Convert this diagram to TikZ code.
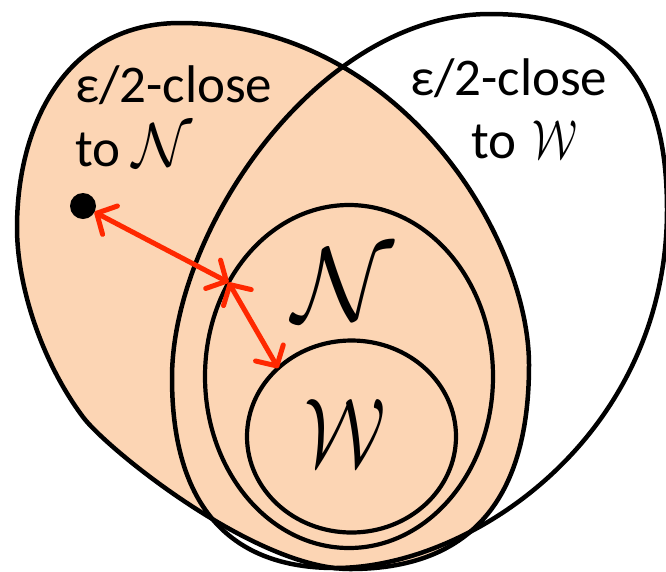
\documentclass[tikz,border=0pt]{standalone}
\usepackage{fontspec}
\setmainfont{Carlito}
\usepackage{graphicx}
\usetikzlibrary{shapes.geometric,arrows.meta}
\definecolor{peach}{RGB}{252,213,180}
\definecolor{arrred}{RGB}{255,40,0}
\newcommand{\calNsmall}{\scalebox{6.2}{\normalsize$\mathcal{N}$}}
\newcommand{\calWsmall}{\hspace{4pt}\scalebox{4.2}[5.5]{\normalsize$\mathcal{W}$}}
\begin{document}
\begin{tikzpicture}[x=1pt,y=-1pt,
  outline/.style={draw=black, line width=4.5pt, line join=round},
  setnode/.style={ellipse, draw=black, line width=4.2pt, inner sep=0pt, outer sep=0pt},
  lbl/.style={inner sep=0pt, outer sep=0pt, font=\fontsize{53}{63}\selectfont, anchor=base west},
  bigsym/.style={inner sep=0pt, outer sep=0pt},
  dist/.style={draw=arrred, line width=5pt, line cap=round, <->},
  >={Straight Barb[length=15pt,width=32pt,round]}
]
\useasboundingbox (0,0) rectangle (666,571);
\clip (0,0) rectangle (666,571);

% peach set (epsilon/2-close to N)
\draw[outline, fill=peach] (180,23)
  .. controls (400,23) and (529,237) .. (529,365)
  .. controls (529,482.3) and (484.7,569) .. (350,569)
  .. controls (255.4,569) and (106.9,449) .. (83,417)
  .. controls (40.4,359.9) and (17,283.8) .. (17,228)
  .. controls (17,120) and (69.3,23) .. cycle;

% white set (epsilon/2-close to W)
\draw[outline] (490,14)
  .. controls (632.7,14) and (667,100.7) .. (667,210)
  .. controls (667,434) and (473.7,568) .. (335,568)
  .. controls (232.3,568) and (172,508.7) .. (172,378)
  .. controls (172,228.7) and (319.3,14) .. cycle;

% N and W sets
\node[setnode, minimum width=288pt, minimum height=343pt] (Nset) at (349,376.5) {};
\node[setnode, minimum width=209pt, minimum height=192pt] (Wset) at (351.5,436.5) {};

% labels
\node[lbl] (lt1) at (75,102) {ε/2-close};
\node[lbl] (lt2) at (75,166) {to \calNsmall};
\node[lbl] (rt1) at (410,95) {ε/2-close};
\node[lbl] (rt2) at (471,158) {to \calWsmall};
\node[bigsym] (bigN) at (343,285) {\scalebox{10.5}{$\mathcal{N}$}};
\node[bigsym] (bigW) at (345,433) {\scalebox{7.6}[9.8]{$\mathcal{W}$}};

% point and distance arrows
\node[circle, fill=black, minimum size=26pt, inner sep=0pt, outer sep=0pt] (dot) at (83,206) {};
\coordinate (p1) at (Nset.142.5);
\coordinate (p2) at (Wset.137.4);
\draw[dist] (dot) -- (p1);
\draw[dist] (p1) -- (p2);
\end{tikzpicture}
\end{document}
